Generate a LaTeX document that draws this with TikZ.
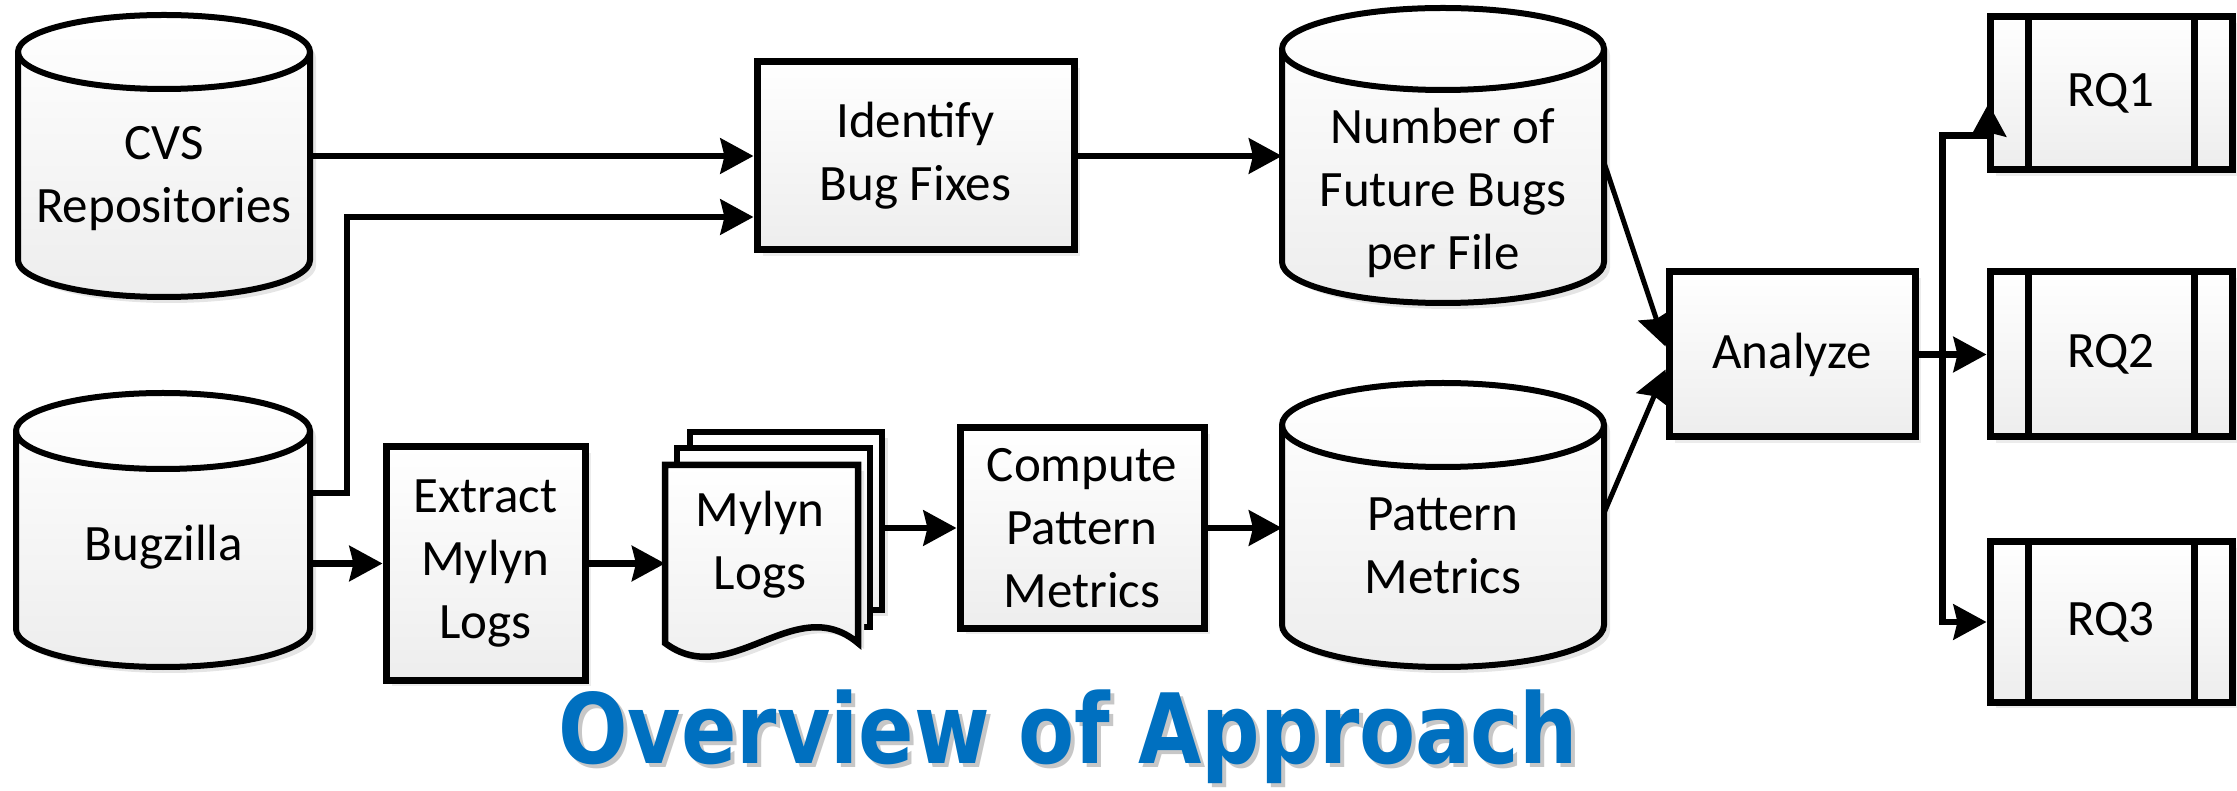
\documentclass[tikz,border=0pt]{standalone}
\usepackage{fontspec}
\setmainfont{Carlito}
\newfontfamily\titlefont{DejaVu Sans}
\usetikzlibrary{arrows.meta,shadows}
\definecolor{ttl}{HTML}{0070C0}
\newcommand\txtfont{\fontsize{51}{63}\selectfont}
\tikzset{
 arr/.style={line width=6.5pt, -{Stealth[length=33pt,width=35pt,inset=4pt]}},
 diag/.style={line width=5pt},
 box/.style={draw, line width=7pt, rectangle, top color=white, bottom color=black!7,
   drop shadow={opacity=0.15, shadow xshift=6pt, shadow yshift=-6pt},
   inner sep=0pt, align=center, font=\txtfont},
 txt/.style={align=center, font=\txtfont, inner sep=0pt},
 ghost/.style={rectangle, inner sep=0pt, outer sep=0pt},
 ttlstyle/.style={font=\titlefont\bfseries\fontsize{97}{100}\selectfont, anchor=base, xscale=0.844, inner sep=0pt},
}
% cylinder: cx, top ellipse centre Y, bottom ellipse centre Y, rx, ry
\newcommand\dbcyl[5]{%
 \fill[black!10] (#1-#4+6,#2-6) -- (#1-#4+6,#3-6) arc[start angle=180,end angle=360,x radius=#4pt,y radius=#5pt] -- (#1+#4+6,#2-6) arc[start angle=0,end angle=180,x radius=#4pt,y radius=#5pt] -- cycle;
 \shadedraw[top color=white,bottom color=black!7,line width=6pt] (#1-#4,#2) -- (#1-#4,#3) arc[start angle=180,end angle=360,x radius=#4pt,y radius=#5pt] -- (#1+#4,#2) arc[start angle=0,end angle=180,x radius=#4pt,y radius=#5pt] -- cycle;
 \draw[line width=6pt] (#1-#4,#2) arc[start angle=180,end angle=360,x radius=#4pt,y radius=#5pt];
}
\newcommand\rqlines[1]{%
 \draw[line width=7pt] ([xshift=42pt]#1.north west) -- ([xshift=42pt]#1.south west);
 \draw[line width=7pt] ([xshift=-41pt]#1.north east) -- ([xshift=-41pt]#1.south east);
}
\begin{document}
\begin{tikzpicture}[x=1pt,y=1pt]
\useasboundingbox (0,0) rectangle (2237,790);

% cylinders
\dbcyl{164}{738}{530}{146}{37}
\node[ghost, minimum width=292pt, minimum height=282pt] (cvs) at (164,634) {};
\node[txt] (cvsT) at (164,611.5) {CVS\\Repositories};

\dbcyl{163}{359}{161}{147}{38}
\node[ghost, minimum width=294pt, minimum height=274pt] (bug) at (163,260) {};
\node[txt] (bugT) at (164,243) {Bugzilla};

\dbcyl{1443}{741}{528}{161}{41}
\node[ghost, minimum width=322pt, minimum height=295pt] (fut) at (1443,634.5) {};
\node[txt] (futT) at (1443,597) {Number of\\Future Bugs\\per File};

\dbcyl{1443}{365}{165}{161}{42}
\node[ghost, minimum width=322pt, minimum height=284pt] (pat) at (1443,265) {};
\node[txt] (patT) at (1443,244) {Pattern\\Metrics};

% boxes
\node[box, minimum width=317pt, minimum height=188pt] (idf) at (915.5,634) {Identify\\Bug Fixes};
\node[box, minimum width=199pt, minimum height=233pt] (ext) at (485.5,226.5) {Extract\\Mylyn\\Logs};
\node[box, minimum width=244pt, minimum height=200pt] (cmp) at (1082,262) {Compute\\Pattern\\Metrics};
\node[box, minimum width=246pt, minimum height=165pt] (ana) at (1792,435.5) {Analyze};
\node[box, minimum width=242pt, minimum height=153pt] (rq1) at (2111,696.5) {RQ1};
\node[box, minimum width=242pt, minimum height=165pt] (rq2) at (2111,435.5) {RQ2};
\node[box, minimum width=242pt, minimum height=160pt] (rq3) at (2111,168) {RQ3};
\rqlines{rq1}\rqlines{rq2}\rqlines{rq3}

% multi-document
\fill[black!10] (696,352) rectangle (888,174);
\shadedraw[top color=white,bottom color=black!7,line width=6.5pt] (690,358) rectangle (882,180);
\shadedraw[top color=white,bottom color=black!7,line width=6.5pt] (677,342) rectangle (870,163);
\fill[black!10] (671,319) -- (671,141) .. controls (736,92) and (801,194) .. (864,141) -- (864,319) -- cycle;
\shadedraw[top color=white,bottom color=black!7,line width=6.5pt] (665,325) -- (665,147) .. controls (730,98) and (795,200) .. (858,147) -- (858,325) -- cycle;
\node[ghost, minimum width=217pt, minimum height=211pt] (myl) at (773.5,252.5) {};
\node[txt] (mylT) at (760,245) {Mylyn\\Logs};

% connectors
\draw[arr] (cvs.east) -- (cvs.east -| idf.west);
\coordinate (b1) at ([yshift=37pt]bug.east);
\draw[arr] (b1) -- ++(37,0) |- ([yshift=-61pt]idf.west);
\draw[arr] (bug.east |- ext.west) -- (ext.west);
\draw[arr] (ext.east) -- (ext.east -| myl.west);
\draw[arr] (cmp.west -| myl.east) -- (cmp.west);
\draw[arr] (cmp.east) -- (cmp.east -| pat.west);
\draw[arr] (idf.east) -- (idf.east -| fut.west);
\draw[arr,diag] ([yshift=-7pt]fut.east) -- ([yshift=8pt]ana.west);
\draw[arr,diag] ([yshift=12pt]pat.east) -- ([yshift=-15pt]ana.west);
\draw[arr] (ana.east) -- (rq2.west);
\coordinate (j) at ([xshift=24pt]ana.east);
\coordinate (c1) at ([xshift=2pt,yshift=38pt]rq1.south west);
\coordinate (c2) at ([xshift=2pt,yshift=70pt]rq1.south west);
\draw[arr] (j) |- (c1) -- (c2);
\draw[arr] (j) |- (rq3.west);

% title
\node[ttlstyle, text=black!22] (titleS) at (1072,23) {Overview of Approach};
\node[ttlstyle, text=ttl] (title) at (1068,27) {Overview of Approach};
\end{tikzpicture}
\end{document}
